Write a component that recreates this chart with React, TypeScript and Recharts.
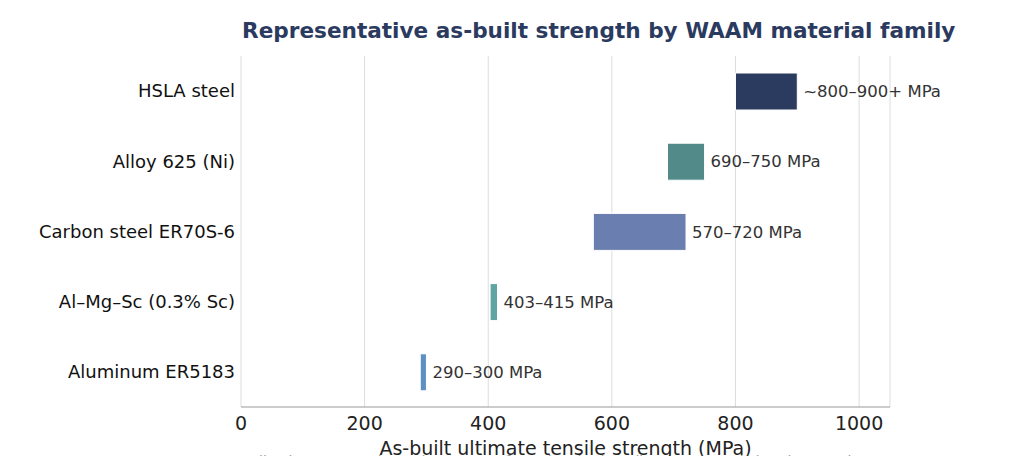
import { BarChart, Bar, XAxis, YAxis, CartesianGrid, Cell, LabelList } from "recharts";

const materials = [
  "HSLA steel",
  "Alloy 625 (Ni)",
  "Carbon steel ER70S-6",
  "Al–Mg–Sc (0.3% Sc)",
  "Aluminum ER5183",
];
const lowMPa = [800, 690, 570, 403, 290];
const highMPa = [900, 750, 720, 415, 300];
const rangeLabels = [
  "~800–900+ MPa",
  "690–750 MPa",
  "570–720 MPa",
  "403–415 MPa",
  "290–300 MPa",
];
const barColors = ["#2b3a5f", "#528a89", "#6a7fb0", "#5fa3a3", "#5b8fc5"];
const xTicks = [0, 200, 400, 600, 800, 1000];

const data = materials.map((name, i) => ({
  name,
  range: [lowMPa[i], highMPa[i]],
  label: rangeLabels[i],
}));

const FONT = "DejaVu Sans, sans-serif";

function RangeLabel(props: any) {
  const { x, y, width, height, value } = props;
  return (
    <text
      x={x + width + 6}
      y={y + height / 2}
      dy="0.35em"
      fontSize={16.5}
      fontFamily={FONT}
      fill="#333333"
    >
      {value}
    </text>
  );
}

export default function App() {
  return (
    <div style={{ position: "absolute", left: 0, top: 0, width: 1010, height: 456, overflow: "hidden", background: "#fff" }}>
      <BarChart
        width={1010}
        height={456}
        data={data}
        layout="vertical"
        margin={{ top: 56, right: 120, bottom: 9, left: 0 }}
      >
        <text x={242} y={38} fontSize={21.6} fontWeight="bold" fontFamily={FONT} fill="#2b3a5f">
          Representative as-built strength by WAAM material family
        </text>
        <CartesianGrid horizontal={false} stroke="#dddddd" />
        <XAxis
          type="number"
          domain={[0, 1050]}
          ticks={xTicks}
          height={40}
          tickLine={false}
          axisLine={{ stroke: "#999999" }}
          tick={{ fontSize: 19, fontFamily: FONT, fill: "#222222" }}
          tickMargin={4}
          label={{
            value: "As-built ultimate tensile strength (MPa)",
            position: "insideBottom",
            offset: -8,
            fontSize: 19,
            fontFamily: FONT,
            fill: "#222222",
          }}
        />
        <YAxis
          type="category"
          dataKey="name"
          width={241}
          tickLine={false}
          axisLine={false}
          tickMargin={0}
          tick={{ fontSize: 18, fontFamily: FONT, fill: "#111111" }}
        />
        <Bar dataKey="range" barSize={37} stroke="#ffffff" strokeWidth={1} isAnimationActive={false}>
          {data.map((d, i) => (
            <Cell key={d.name} fill={barColors[i]} />
          ))}
          <LabelList dataKey="label" content={<RangeLabel />} />
        </Bar>
        <text x={241} y={466} fontSize={14} fontFamily={FONT} fill="#999999">
          Indicative process-dependent ranges from the cited studies; HSLA steel class is strongly
        </text>
      </BarChart>
    </div>
  );
}
